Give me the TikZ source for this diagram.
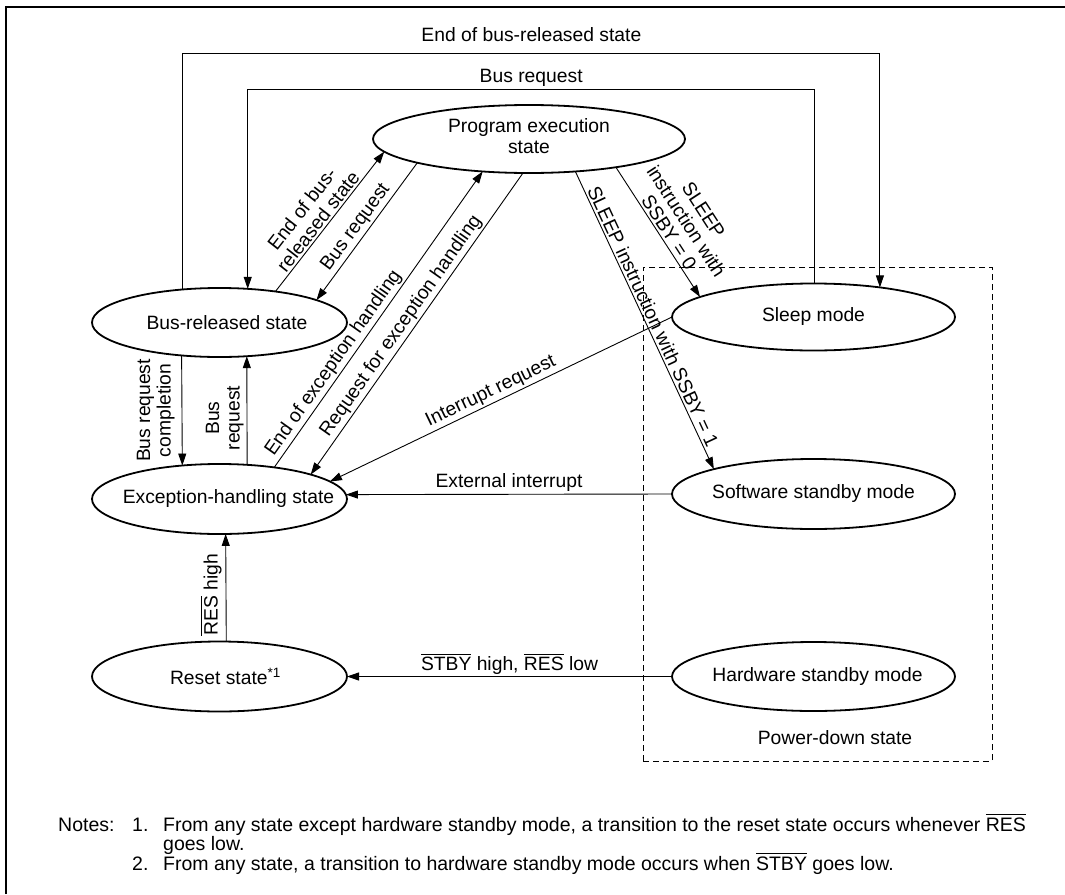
\documentclass[tikz,border=0pt]{standalone}
\usepackage{fontspec}
\setmainfont{Liberation Sans}
\usetikzlibrary{shapes.geometric,arrows.meta}
\newcommand{\ovl}[1]{\setbox0=\hbox{#1}\rlap{\rule[\dimexpr\ht0+2pt\relax]{\wd0}{1pt}}\box0\relax}
\begin{document}
\begin{tikzpicture}[x=1pt,y=-1pt,
  every node/.style={font=\fontsize{19.3}{20.5}\selectfont},
  st/.style={draw, ellipse, line width=1.8pt, inner sep=0pt, outer sep=0pt},
  con/.style={line width=0.9pt},
  arr/.style={con, -{Triangle[length=12pt,width=8pt]}},
  rarr/.style={con, {Triangle[length=12pt,width=8pt]}-},
  lab/.style={inner sep=2pt, align=center},
  vlab/.style={inner sep=#1, align=center, rotate=90, anchor=south},
  vlab/.default=3pt,
  note/.style={anchor=base west, inner sep=0pt, font=\fontsize{19.5}{19.5}\selectfont},
]
\useasboundingbox (0,0) rectangle (1065,894);
\draw[line width=2pt] (5.5,894) -- (5.5,7) -- (1065,7);

% power-down frame
\node[draw, dashed, dash pattern=on 6pt off 4pt, line width=0.8pt, inner sep=0pt,
      minimum width=349pt, minimum height=494pt] (pd) at (817.5,514) {};
\node (pdl) at (835,738) {Power-down state};

% states
\node[st, minimum width=312pt, minimum height=68pt] (pe) at (529,139)
  {\makebox[0pt]{\begin{tabular}{@{}c@{}}Program execution\\state\end{tabular}}};
\node[st, minimum width=255pt, minimum height=69pt] (br) at (219.5,322.5)
  {\makebox[0pt]{\hspace{15pt}Bus-released state}};
\node[st, minimum width=255pt, minimum height=70pt] (eh) at (219.5,499)
  {\makebox[0pt]{\hspace{18pt}Exception-handling state}};
\node[st, minimum width=255pt, minimum height=70pt] (rs) at (219.5,676.5)
  {\makebox[0pt]{\hspace{12pt}Reset state\textsuperscript{*1}}};
\node[st, minimum width=283pt, minimum height=67pt] (sl) at (813.5,317)
  {\makebox[0pt]{Sleep mode}};
\node[st, minimum width=283pt, minimum height=70pt] (ss) at (813.5,494)
  {\makebox[0pt]{Software standby mode}};
\node[st, minimum width=283pt, minimum height=69pt] (hs) at (813.5,676.5)
  {\makebox[0pt]{\hspace{8pt}Hardware standby mode}};

\coordinate (top1) at (0,53);
\coordinate (top2) at (0,89);

% long routes
\draw[arr] (br.138.7) -- (br.138.7 |- top1)
  -- node[lab, above, yshift=9pt]{End of bus-released state} (sl.24 |- top1) -- (sl.24);
\draw[arr] (sl.88.6) -- (sl.88.6 |- top2)
  -- node[lab, above]{Bus request} (br.50.8 |- top2) -- (br.50.8);

% vertical transitions
\draw[rarr] (eh.138.3) -- node[vlab=7pt, pos=0.5]{Bus request\\completion} (br.221.3);
\draw[arr] (eh.51.2) -- node[vlab=3pt, pos=0.43]{Bus\\request} (br.309.2);
\draw[arr] (rs.79.5) -- node[vlab=4pt, pos=0.435]{\ovl{RES} high} (eh.280.5);

% diagonal transitions
\draw[arr] (br.29.2) -- node[lab, sloped, above, pos=0.46]{End of bus-\\released state} (pe.185);
\draw[arr] (pe.192.2) -- node[lab, sloped, above, pos=0.52]{Bus request} (br.13.5);
\draw[arr] (eh.30.7) -- node[lab, sloped, above, pos=0.33]{End of exception handling} (pe.215.2);
\draw[arr] (pe.260) -- node[lab, sloped, above, pos=0.53]{Request for exception handling} (eh.15.2);
\draw[arr] (sl.west) -- node[lab, sloped, above, pos=0.515]{Interrupt request} (eh.9.6);
\draw[arr] (pe.-18.3) -- node[lab, sloped, above, pos=0.54]{SLEEP\\instruction with\\SSBY = 0} (sl.170.7);
\draw[arr] (pe.-35.2) -- node[lab, sloped, above, pos=0.5]{SLEEP instruction with SSBY = 1} (ss.166.5);

% horizontal transitions
\draw[arr] (ss.west) -- node[lab, above]{External interrupt} (eh.2.3);
\draw[arr] (hs.west) -- node[lab, above]{\ovl{STBY} high, \ovl{RES} low} (rs.east);

% notes
\node[note] (n0) at (58,831) {Notes:};
\node[note] (n1) at (132,831) {1.};
\node[note] (n1t) at (163,831)
  {From any state except hardware standby mode, a transition to the reset state occurs whenever \ovl{RES}};
\node[note] (n1u) at (163,850.5) {goes low.};
\node[note] (n2) at (132,870) {2.};
\node[note] (n2t) at (163,870)
  {From any state, a transition to hardware standby mode occurs when \ovl{STBY} goes low.};
\end{tikzpicture}
\end{document}
